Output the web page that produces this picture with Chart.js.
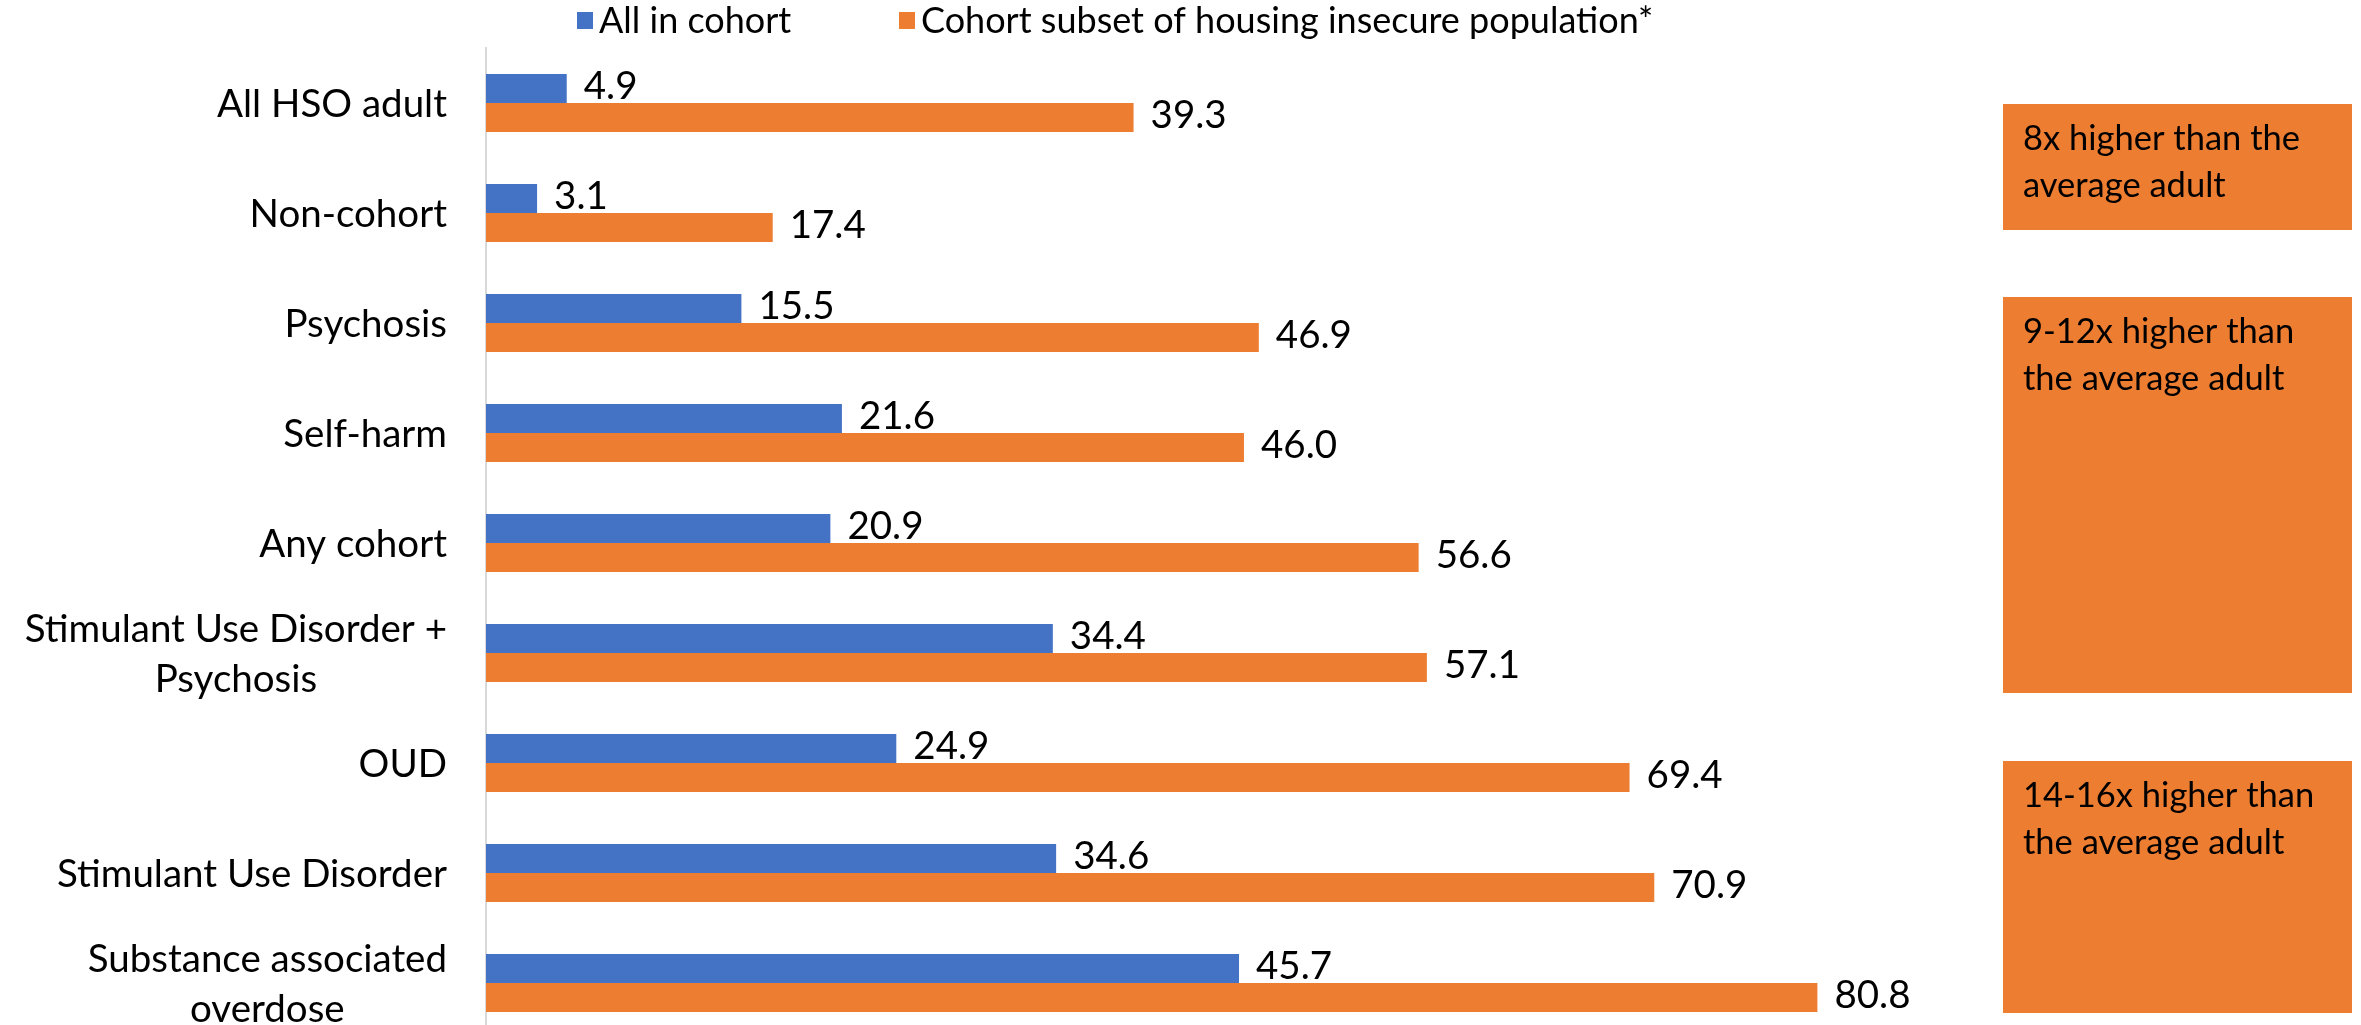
<!DOCTYPE html>
<html>
<head>
<meta charset="utf-8">
<script src="https://cdn.jsdelivr.net/npm/chart.js@4/dist/chart.umd.min.js"></script>
<style>
html, body { margin: 0; padding: 0; background: #fff; overflow: hidden; width: 2361px; height: 1025px; }
canvas { display: block; }
</style>
</head>
<body>
<canvas id="c" width="2361" height="1040"></canvas>
<script>
// ---- data ----
const categories = [
  "All HSO adult",
  "Non-cohort",
  "Psychosis",
  "Self-harm",
  "Any cohort",
  ["Stimulant Use Disorder +", "Psychosis"],
  "OUD",
  "Stimulant Use Disorder",
  ["Substance associated", "overdose"]
];
const allInCohort = [4.9, 3.1, 15.5, 21.6, 20.9, 34.4, 24.9, 34.6, 45.7];
const housingInsecure = [39.3, 17.4, 46.9, 46.0, 56.6, 57.1, 69.4, 70.9, 80.8];
const seriesNames = ["All in cohort", "Cohort subset of housing insecure population*"];
const boxTexts = [
  ["8x higher than the", "average adult"],
  ["9-12x higher than", "the average adult"],
  ["14-16x higher than", "the average adult"]
];

// ---- styles ----
const BLUE = "#4472C4";
const ORANGE = "#ED7D31";
const FONT = "Lato";

const boxGeom = [
  { top: 104, bottom: 230 },
  { top: 297, bottom: 693 },
  { top: 761, bottom: 1013 }
];

const annotations = {
  id: "annotations",
  afterDatasetsDraw(chart) {
    const ctx = chart.ctx;
    ctx.save();
    // value labels
    ctx.font = "38.5px " + FONT;
    ctx.fillStyle = "#000";
    ctx.textAlign = "left";
    ctx.textBaseline = "middle";
    chart.data.datasets.forEach((ds, i) => {
      chart.getDatasetMeta(i).data.forEach((bar, j) => {
        ctx.fillText(ds.data[j].toFixed(1), bar.x + 17, bar.y - 2);
      });
    });
    // category labels (multi-line centred as a block, right aligned)
    const y = chart.scales.y;
    const rightEdge = 447;
    const lh = 50;
    ctx.font = "38.5px " + FONT;
    chart.data.labels.forEach((lab, j) => {
      const lines = Array.isArray(lab) ? lab : [lab];
      const cy = y.getPixelForValue(j);
      const widest = Math.max(...lines.map(l => ctx.measureText(l).width));
      const cx = rightEdge - widest / 2;
      ctx.textAlign = "center";
      lines.forEach((l, k) => {
        ctx.fillText(l, cx, cy + (k - (lines.length - 1) / 2) * lh + 2);
      });
    });
    // legend
    ctx.textAlign = "left";
    ctx.textBaseline = "middle";
    ctx.font = "36px " + FONT;
    const legendX = [577, 899];
    chart.data.datasets.forEach((ds, i) => {
      ctx.fillStyle = ds.backgroundColor;
      ctx.fillRect(legendX[i], 12, 16, 17);
      ctx.fillStyle = "#000";
      ctx.fillText(ds.label, legendX[i] + 22, 21);
    });
    // side boxes
    boxGeom.forEach((b, k) => {
      ctx.fillStyle = ORANGE;
      ctx.fillRect(2003, b.top, 349, b.bottom - b.top);
      ctx.fillStyle = "#000";
      ctx.font = "34.5px " + FONT;
      ctx.textBaseline = "alphabetic";
      boxTexts[k].forEach((t, m) => {
        ctx.fillText(t, 2023, b.top + 46 + m * 47);
      });
    });
    ctx.restore();
  }
};

new Chart(document.getElementById("c"), {
  type: "bar",
  data: {
    labels: categories,
    datasets: [
      { label: seriesNames[0], data: allInCohort, backgroundColor: BLUE },
      { label: seriesNames[1], data: housingInsecure, backgroundColor: ORANGE }
    ]
  },
  options: {
    indexAxis: "y",
    responsive: false,
    animation: false,
    devicePixelRatio: 1,
    layout: { padding: { top: 48, right: 392, bottom: 2, left: 0 } },
    datasets: { bar: { categoryPercentage: 0.527, barPercentage: 1.0 } },
    plugins: { legend: { display: false }, tooltip: { enabled: false } },
    scales: {
      x: { display: false, min: 0, max: 90 },
      y: {
        grid: { display: false },
        border: { display: true, color: "#d9d9d9", width: 2 },
        ticks: { display: false },
        afterFit(scale) { scale.width = 486; }
      }
    }
  },
  plugins: [annotations]
});
</script>
</body>
</html>
